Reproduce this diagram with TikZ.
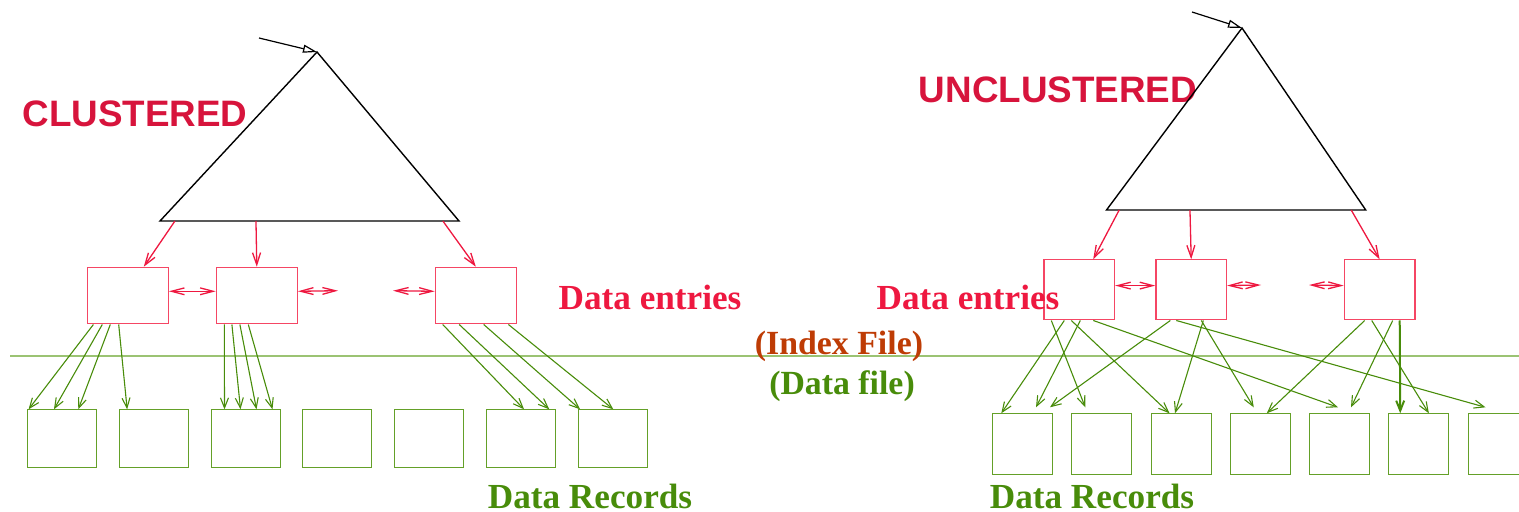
\documentclass[tikz,border=0pt]{standalone}
\usepackage{fontspec}
\setmainfont{Liberation Serif}
\newfontfamily\headfont{Liberation Sans}
\usetikzlibrary{arrows.meta,calc}
\definecolor{idxRed}{RGB}{238,24,64}
\definecolor{boxRed}{RGB}{245,70,100}
\definecolor{headRed}{RGB}{215,20,60}
\definecolor{recGreen}{RGB}{72,140,10}
\definecolor{boxGreen}{RGB}{100,160,40}
\definecolor{lineGreen}{RGB}{155,195,115}
\definecolor{fileBrown}{RGB}{190,60,5}
\tikzset{
    heading/.style={font=\headfont\bfseries\fontsize{18.4}{20}\selectfont, text=headRed, inner sep=0pt},
    caption/.style={font=\bfseries\fontsize{17.6}{19}\selectfont, inner sep=0pt},
    entry/.style={draw=boxRed, line width=0.6pt, anchor=north west, inner sep=0pt},
    record/.style={draw=boxGreen, line width=0.6pt, anchor=north west, inner sep=0pt},
    tree/.style={draw=black, line width=0.7pt},
    root/.style={-{Triangle[open,length=7pt,width=4pt]}, line width=0.6pt},
    ptr/.style={-{Straight Barb[length=6pt,width=4pt]}, draw=idxRed, line width=0.65pt},
    link/.style={{Straight Barb[length=6.5pt,width=3.4pt]}-{Straight Barb[length=6.5pt,width=3.4pt]}, draw=idxRed, line width=0.65pt},
    rec/.style={-{Straight Barb[length=5pt,width=4pt]}, draw=recGreen, line width=0.55pt}
}
\begin{document}
\begin{tikzpicture}[x=0.5pt, y=-0.5pt]
  \useasboundingbox (0,0) rectangle (1519,512);
  \clip (0,0) rectangle (1519,512);

  % Index / data boundary
  \draw[lineGreen, line width=1pt] (10,356) -- (1519,356);
  \node[caption, text=fileBrown, font=\bfseries\fontsize{16.9}{18}\selectfont] (idxfile) at (839,346) {(Index File)};
  \node[caption, text=recGreen, font=\bfseries\fontsize{16.9}{18}\selectfont] (datfile) at (842,386) {(Data file)};

  % Clustered index
  \begin{scope}
    \node[heading] (clab) at (135,113.5) {CLUSTERED};
    \coordinate (lapex) at (317,52);
    \coordinate (lbl) at (160,221);
    \coordinate (lbr) at (459,221);
    \coordinate (lroot) at (259,38);
    \draw[tree] (lapex) -- (lbl) -- (lbr) -- cycle;
    \draw[root] (lroot) -- (lapex);

    % Data entries
    \node[entry, minimum width=40.5pt, minimum height=28.3pt] (e1) at (86.7,266.7) {};
    \node[entry, minimum width=40.5pt, minimum height=28.3pt] (e2) at (215.7,266.7) {};
    \node[entry, minimum width=40.5pt, minimum height=28.3pt] (e3) at (434.7,266.7) {};
    \node[caption, text=idxRed] (lent) at (650,297) {Data entries};

    \draw[ptr] ($(lbl)!0.05!(lbr)$) -- ($(e1.north)+(16,0)$);
    \draw[ptr] ($(lbl)!0.321!(lbr)$) -- (e2.north);
    \draw[ptr] ($(lbl)!0.946!(lbr)$) -- (e3.north);

    % Sibling links
    \coordinate (lgapa) at (338,290.7);
    \coordinate (lgapb) at (393,290.7);
    \draw[link] ($(e1.east)+(0,-4.3)$) -- ($(e2.west)+(0,-4.3)$);
    \draw[link] ($(e2.east)+(0,-4.3)$) -- (lgapa);
    \draw[link] (lgapb) -- ($(e3.west)+(0,-4.3)$);

    % Data records
    \foreach \i in {1,...,7}
      \node[record, minimum width=34.5pt, minimum height=28.7pt] (r\i) at ({27+91.75*(\i-1)},409.3) {};
    \node[caption, text=recGreen] (lrec) at (590,496) {Data Records};

    \foreach \s/\a/\t/\b in {e1/6.7/r1/1.6, e1/15.6/r1/27, e1/23.6/r1/51.3, e1/32/r2/8.4,
                             e2/8.6/r3/14, e2/16.2/r3/30, e2/24.2/r3/46, e2/32.6/r3/62,
                             e3/8/r6/38.3, e3/24.5/r6/63.5, e3/49/r7/2.6, e3/73.7/r7/35.8}
      \draw[rec] ($(\s.south west)+(\a,0)$) -- ($(\t.north west)+(\b,0)$);
  \end{scope}

  % Unclustered index
  \begin{scope}
    \node[heading] (ulab) at (1058,90) {UNCLUSTERED};
    \coordinate (rapex) at (1242,28);
    \coordinate (rbl) at (1106.5,210);
    \coordinate (rbr) at (1365.7,210);
    \coordinate (rroot) at (1192,12);
    \draw[tree] (rapex) -- (rbl) -- (rbr) -- cycle;
    \draw[root] (rroot) -- (rapex);

    % Data entries
    \node[entry, minimum width=35.3pt, minimum height=30pt] (f1) at (1043.3,259.3) {};
    \node[entry, minimum width=35.3pt, minimum height=30pt] (f2) at (1155.3,259.3) {};
    \node[entry, minimum width=35.3pt, minimum height=30pt] (f3) at (1343.7,259.3) {};
    \node[caption, text=idxRed] (rent) at (968,297) {Data entries};

    \draw[ptr] ($(rbl)!0.049!(rbr)$) -- ($(f1.north)+(14,0)$);
    \draw[ptr] ($(rbl)!0.322!(rbr)$) -- (f2.north);
    \draw[ptr] ($(rbl)!0.944!(rbr)$) -- (f3.north);

    % Sibling links
    \coordinate (rgapa) at (1261,285);
    \coordinate (rgapb) at (1309,285);
    \draw[link] ($(f1.east)+(0,-4.3)$) -- ($(f2.west)+(0,-4.3)$);
    \draw[link] ($(f2.east)+(0,-4.3)$) -- (rgapa);
    \draw[link] (rgapb) -- ($(f3.west)+(0,-4.3)$);

    % Data records
    \foreach \i in {1,...,7}
      \node[record, minimum width=30pt, minimum height=30.4pt] (s\i) at ({992+79.25*(\i-1)},413.3) {};
    \node[caption, text=recGreen] (rrec) at (1092,496) {Data Records};

    \foreach \s/\a/\t/\b/\c in {f1/8/s2/14/-6, f1/21/s1/9.3/0, f1/28/s3/19/0, f1/37/s1/44/-6, f1/50/s5/29/-6,
                                f2/15/s1/58/-6, f2/21/s7/18/-6, f2/48/s3/24.5/0, f2/46/s4/24/-6,
                                f3/21/s4/37/0, f3/28/s6/40.6/0, f3/49/s5/42/-6}
      \draw[rec] ($(\s.south west)+(\a,0)$) -- ($(\t.north west)+(\b,\c)$);
    \draw[rec, line width=1pt] ($(f3.south west)+(56,0)$) -- ($(s6.north west)+(12,0)$);
  \end{scope}
\end{tikzpicture}
\end{document}
